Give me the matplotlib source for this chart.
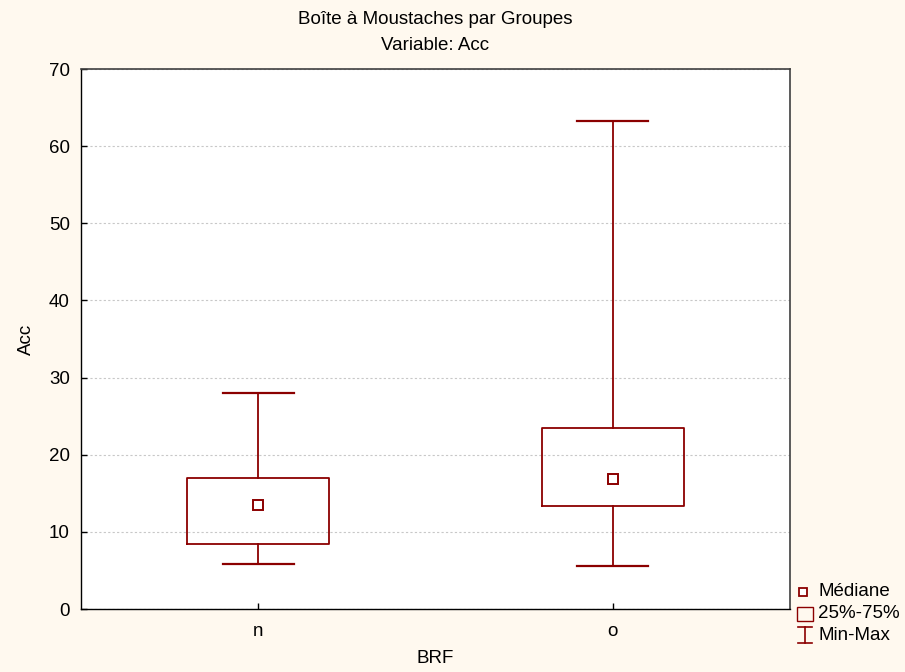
import matplotlib
matplotlib.use("Agg")
import matplotlib.pyplot as plt
from matplotlib.lines import Line2D
from matplotlib.patches import Rectangle

plt.rcParams['font.family'] = ['Liberation Sans', 'DejaVu Sans']

categories = ['n', 'o']
minimums = [5.8, 5.6]
q1s = [8.4, 13.3]
medians = [13.5, 16.8]
q3s = [17.0, 23.5]
maximums = [28.0, 63.3]
yticks = [0, 10, 20, 30, 40, 50, 60, 70]

RED = '#8B0000'
BG = '#FFF9EF'
FS = 13.5

fig = plt.figure(figsize=(9.05, 6.72), dpi=100, facecolor=BG)
ax = fig.add_axes([81/905, 63/672, 709/905, 540/672])
ax.set_facecolor('white')

positions = list(range(len(categories)))
stats = []
for i, c in enumerate(categories):
    stats.append(dict(label=c, whislo=minimums[i], q1=q1s[i], med=medians[i],
                      q3=q3s[i], whishi=maximums[i], fliers=[]))

ax.bxp(stats, positions=positions, widths=0.4, capwidths=0.2, showfliers=False,
       boxprops=dict(color=RED, linewidth=1.3),
       whiskerprops=dict(color=RED, linewidth=1.3),
       capprops=dict(color=RED, linewidth=1.6),
       medianprops=dict(linestyle='none'), zorder=3)
ax.plot(positions, medians, linestyle='none', marker='s', markersize=7,
        markerfacecolor='white', markeredgecolor=RED, markeredgewidth=1.4, zorder=4)

ax.set_xlim(-0.5, len(categories) - 0.5)
ax.set_ylim(0, 70)
ax.set_yticks(yticks)
ax.set_xticks(positions)
ax.set_xticklabels(categories)
ax.tick_params(direction='in', length=4, width=1, labelsize=FS, pad=8)
ax.tick_params(axis='x', pad=10)
ax.yaxis.grid(True, linestyle=(0, (2, 2)), color='#C8C8C8', linewidth=0.8, zorder=0)
ax.set_axisbelow(True)
for s in ['left', 'bottom']:
    ax.spines[s].set_color('black')
    ax.spines[s].set_linewidth(1.0)
for s in ['top', 'right']:
    ax.spines[s].set_color('#404040')
    ax.spines[s].set_linewidth(1.2)

ax.set_xlabel('BRF', fontsize=FS, labelpad=7)
ax.set_ylabel('Acc', fontsize=FS, labelpad=10)

fig.text(435.5/905, 1 - 19/672, 'Boîte à Moustaches par Groupes', ha='center', va='center', fontsize=FS)
fig.text(435.5/905, 1 - 45/672, 'Variable: Acc', ha='center', va='center', fontsize=FS)

# legend (figure coordinates)
W, H = 905, 672
def fx(x): return x / W
def fy(y): return 1 - y / H

fig.add_artist(Line2D([fx(803)], [fy(592)], marker='s', markersize=6, markerfacecolor='white',
                      markeredgecolor=RED, markeredgewidth=1.3, linestyle='none'))
fig.text(fx(818), fy(592), 'Médiane', ha='left', va='center', fontsize=FS)
fig.add_artist(Rectangle((fx(797), fy(621)), (813 - 797) / W, (621 - 607) / H,
                         fill=False, edgecolor=RED, linewidth=1.0, transform=fig.transFigure))
fig.text(fx(818), fy(614), '25%-75%', ha='left', va='center', fontsize=FS)
fig.add_artist(Line2D([fx(805), fx(805)], [fy(627), fy(643)], color=RED, linewidth=1.2))
fig.add_artist(Line2D([fx(798), fx(812)], [fy(627), fy(627)], color=RED, linewidth=1.2))
fig.add_artist(Line2D([fx(798), fx(812)], [fy(643), fy(643)], color=RED, linewidth=1.2))
fig.text(fx(818), fy(635), 'Min-Max', ha='left', va='center', fontsize=FS)

fig.savefig('out.png', dpi=100, facecolor=BG)
